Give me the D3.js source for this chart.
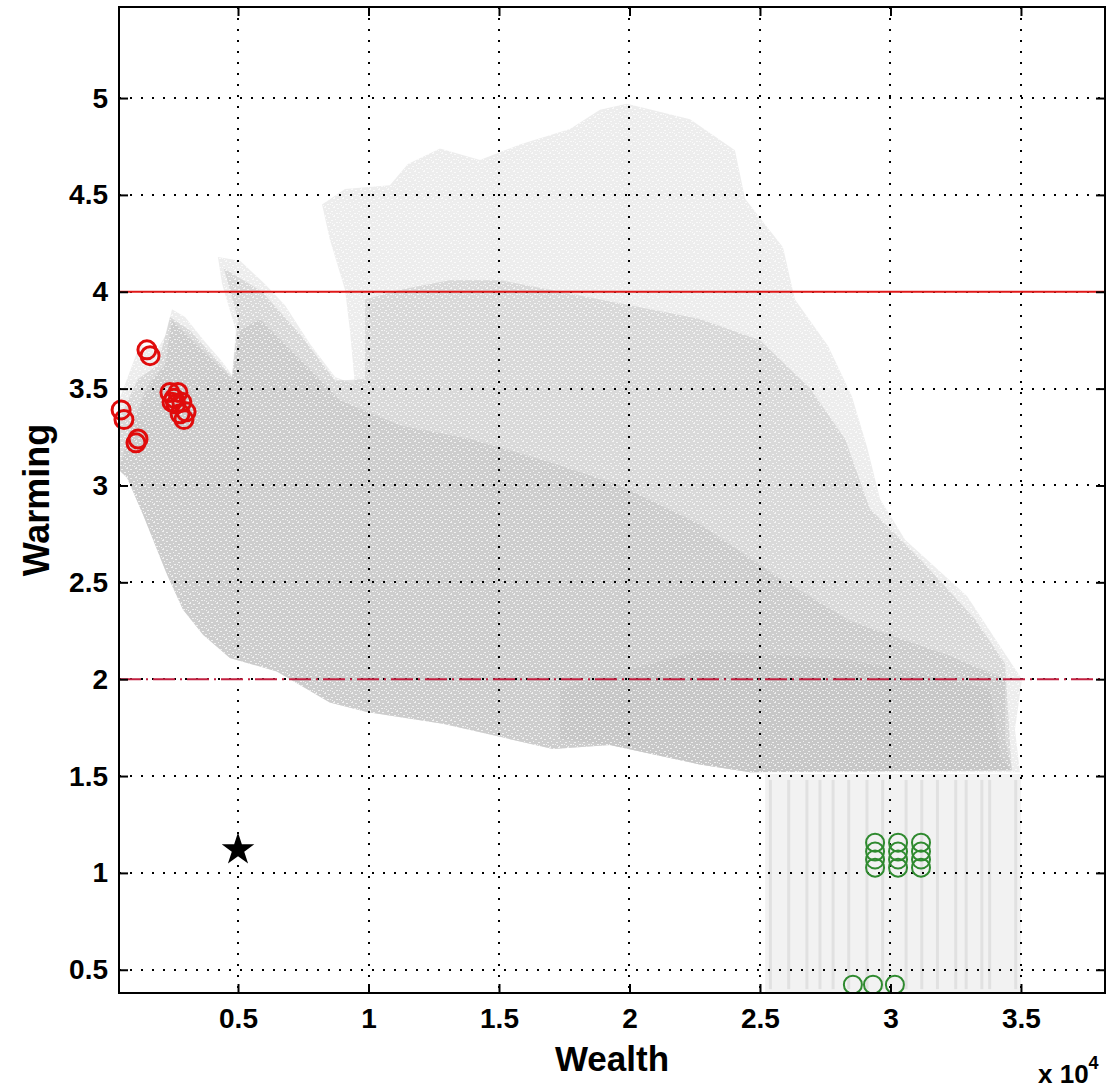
<!DOCTYPE html>
<html>
<head>
<meta charset="utf-8">
<script src="https://cdn.jsdelivr.net/npm/d3@7"></script>
<style>
  body { margin: 0; background: #fff; }
  svg { display: block; font-family: "Liberation Sans", Arial, Helvetica, sans-serif; }
</style>
</head>
<body>
<div id="chart"></div>
<script>
// axis setup (wealth in units of 10^4)
const xLimits = [0.044, 3.822];
const yLimits = [0.38, 5.47];
const xTicks = [0.5, 1, 1.5, 2, 2.5, 3, 3.5];
const yTicks = [0.5, 1, 1.5, 2, 2.5, 3, 3.5, 4, 4.5, 5];
const xTickLabels = ["0.5", "1", "1.5", "2", "2.5", "3", "3.5"];
const yTickLabels = ["0.5", "1", "1.5", "2", "2.5", "3", "3.5", "4", "4.5", "5"];

// threshold lines
const limitHigh = 4;
const limitLow = 2;

// the gray cloud of model runs, traced as density regions [wealth, warming]
const cloudOuter = [
  [0.044, 3.08], [0.044, 3.44], [0.125, 3.73], [0.186, 3.69], [0.224, 3.78], [0.247, 3.91],
  [0.297, 3.87], [0.374, 3.74], [0.439, 3.64], [0.477, 3.57], [0.492, 3.80], [0.439, 4.04],
  [0.423, 4.18], [0.508, 4.16], [0.603, 4.04], [0.680, 3.93], [0.776, 3.73], [0.872, 3.56],
  [0.948, 3.52], [0.929, 3.80], [0.910, 4.01], [0.852, 4.27], [0.822, 4.45], [0.910, 4.53],
  [1.082, 4.55], [1.151, 4.66], [1.274, 4.74], [1.427, 4.68], [1.580, 4.76], [1.772, 4.84],
  [1.887, 4.94], [1.990, 4.97], [2.232, 4.89], [2.404, 4.73], [2.443, 4.48], [2.588, 4.23],
  [2.634, 3.96], [2.761, 3.72], [2.852, 3.46], [2.910, 3.20], [2.960, 2.93], [3.056, 2.72],
  [3.293, 2.43], [3.420, 2.17], [3.504, 2.00], [3.477, 1.74], [3.496, 1.52],
  [2.462, 1.52], [2.270, 1.56], [1.925, 1.66], [1.707, 1.64], [1.285, 1.77], [0.994, 1.83],
  [0.852, 1.88], [0.649, 2.04], [0.469, 2.11], [0.366, 2.23], [0.289, 2.36], [0.228, 2.54],
  [0.136, 2.85], [0.075, 3.04]
];
const cloudMedium = [
  [0.044, 3.08], [0.044, 3.34], [0.117, 3.55], [0.193, 3.62], [0.239, 3.87], [0.316, 3.80],
  [0.477, 3.56], [0.500, 3.86], [0.446, 4.12], [0.592, 4.00], [0.738, 3.78], [0.872, 3.54],
  [0.987, 3.55], [0.987, 3.96], [1.121, 4.01], [1.312, 4.06], [1.504, 4.06], [1.695, 4.01],
  [1.887, 3.96], [2.079, 3.91], [2.270, 3.86], [2.500, 3.75], [2.692, 3.50], [2.826, 3.24],
  [2.921, 2.88], [3.113, 2.62], [3.324, 2.31], [3.439, 2.08], [3.457, 1.69], [3.465, 1.53],
  [2.462, 1.52], [2.270, 1.56], [1.925, 1.66], [1.707, 1.64], [1.285, 1.77], [0.994, 1.83],
  [0.852, 1.88], [0.649, 2.04], [0.469, 2.11], [0.366, 2.23], [0.289, 2.36], [0.228, 2.54],
  [0.136, 2.85], [0.075, 3.04]
];
const cloudDense = [
  [0.044, 3.08], [0.086, 3.29], [0.155, 3.52], [0.220, 3.62], [0.247, 3.85], [0.354, 3.71],
  [0.477, 3.55], [0.508, 3.80], [0.584, 3.86], [0.738, 3.65], [0.891, 3.44], [1.121, 3.31],
  [1.389, 3.24], [1.695, 3.12], [1.964, 3.00], [2.270, 2.80], [2.577, 2.52], [2.845, 2.30],
  [3.228, 2.12], [3.439, 2.00], [3.439, 1.69], [3.465, 1.53],
  [2.462, 1.52], [2.270, 1.56], [1.925, 1.66], [1.707, 1.64], [1.285, 1.77], [0.994, 1.83],
  [0.852, 1.88], [0.649, 2.04], [0.469, 2.11], [0.366, 2.23], [0.289, 2.36], [0.228, 2.54],
  [0.136, 2.85], [0.075, 3.04]
];
const cloudCore = [
  [1.734, 1.95], [2.270, 2.15], [2.845, 2.10], [3.381, 1.95], [3.420, 1.61], [3.458, 1.53],
  [2.462, 1.52], [2.270, 1.56], [1.925, 1.66], [1.734, 1.69]
];
const cloudLowBlock = [[2.52, 1.51], [3.50, 1.51], [3.50, 0.38], [2.52, 0.38]];
const stripeWealth = [2.54, 2.61, 2.68, 2.73, 2.78, 2.84, 2.91, 2.97, 3.06, 3.12, 3.18, 3.25, 3.29, 3.35, 3.38, 3.48];

// highlighted runs
const redWealth = [0.151, 0.163, 0.239, 0.255, 0.270, 0.278, 0.293, 0.301, 0.052, 0.063, 0.109, 0.117, 0.262, 0.285, 0.247];
const redWarming = [3.70, 3.67, 3.48, 3.45, 3.48, 3.37, 3.34, 3.38, 3.39, 3.34, 3.22, 3.24, 3.42, 3.43, 3.43];
const greenWealth = [2.941, 2.941, 2.941, 2.941, 3.029, 3.029, 3.029, 3.029, 3.117, 3.117, 3.117, 3.117, 2.856, 2.933, 3.017];
const greenWarming = [1.156, 1.110, 1.069, 1.027, 1.156, 1.110, 1.069, 1.027, 1.156, 1.110, 1.069, 1.027, 0.423, 0.423, 0.423];
const starWealth = [0.5];
const starWarming = [1.12];

const width = 1111, height = 1091;
const margin = { top: 7, right: 6, bottom: 98, left: 119 };

const svg = d3.select('#chart')
  .append('svg')
  .attr('width', width)
  .attr('height', height)
  .style('background', '#fff');

const x = d3.scaleLinear().domain(xLimits).range([margin.left, width - margin.right]);
const y = d3.scaleLinear().domain(yLimits).range([height - margin.bottom, margin.top]);

const defs = svg.append('defs');
defs.append('clipPath').attr('id', 'plotClip')
  .append('rect')
  .attr('x', margin.left).attr('y', margin.top)
  .attr('width', width - margin.left - margin.right)
  .attr('height', height - margin.top - margin.bottom);

// white speckle so the cloud reads as a scatter of points
const speckle = defs.append('pattern')
  .attr('id', 'speckle')
  .attr('patternUnits', 'userSpaceOnUse')
  .attr('width', 9).attr('height', 9);
[[0, 0, 2], [5, 1, 1], [2, 3, 1], [7, 4, 2], [3, 6, 2], [8, 7, 1], [1, 8, 1], [6, 6, 1], [4, 1, 1]].forEach(([px, py, w]) => {
  speckle.append('rect').attr('x', px).attr('y', py).attr('width', w).attr('height', 1).attr('fill', '#fff');
});

const plot = svg.append('g').attr('clip-path', 'url(#plotClip)');

// cloud
const area = d3.line().x(d => x(d[0])).y(d => y(d[1])).curve(d3.curveLinearClosed);
const cloudGray = '#c2c2c2';
[[cloudOuter, 0.3], [cloudMedium, 0.45], [cloudDense, 0.5], [cloudCore, 0.45]].forEach(([poly, op]) => {
  plot.append('path')
    .attr('d', area(poly))
    .attr('fill', cloudGray)
    .attr('fill-opacity', op);
});
plot.append('path')
  .attr('d', area(cloudLowBlock))
  .attr('fill', cloudGray)
  .attr('fill-opacity', 0.22);
plot.selectAll('.stripe')
  .data(stripeWealth)
  .enter()
  .append('line')
  .attr('class', 'stripe')
  .attr('x1', d => x(d)).attr('x2', d => x(d))
  .attr('y1', y(1.48)).attr('y2', y(0.4))
  .attr('stroke', cloudGray)
  .attr('stroke-width', 3)
  .attr('stroke-opacity', 0.35);
plot.append('path')
  .attr('d', area(cloudOuter))
  .attr('fill', 'url(#speckle)')
  .attr('fill-opacity', 0.7);

// dotted grid
const grid = svg.append('g').attr('fill', 'none').attr('stroke', '#000')
  .attr('stroke-width', 2).attr('stroke-dasharray', '2 9');
grid.selectAll('.vgrid')
  .data(xTicks)
  .enter()
  .append('line')
  .attr('x1', d => Math.round(x(d))).attr('x2', d => Math.round(x(d)))
  .attr('y1', y(yLimits[1])).attr('y2', y(yLimits[0]));
grid.selectAll('.hgrid')
  .data(yTicks)
  .enter()
  .append('line')
  .attr('y1', d => Math.round(y(d))).attr('y2', d => Math.round(y(d)))
  .attr('x1', x(xLimits[0])).attr('x2', x(xLimits[1]));

// threshold lines
svg.append('line')
  .attr('x1', x(xLimits[0])).attr('x2', x(xLimits[1]))
  .attr('y1', y(limitHigh)).attr('y2', y(limitHigh))
  .attr('stroke', '#e01818').attr('stroke-width', 2);
svg.append('line')
  .attr('x1', x(xLimits[0])).attr('x2', x(xLimits[1]))
  .attr('y1', y(limitLow)).attr('y2', y(limitLow))
  .attr('stroke', '#c22040').attr('stroke-width', 2)
  .attr('stroke-dasharray', '22 5 2 5');

// markers
const redRuns = redWealth.map((w, i) => [w, redWarming[i]]);
const greenRuns = greenWealth.map((w, i) => [w, greenWarming[i]]);
const markers = svg.append('g').attr('clip-path', 'url(#plotClip)');
markers.selectAll('.green')
  .data(greenRuns)
  .enter()
  .append('circle')
  .attr('cx', d => x(d[0])).attr('cy', d => y(d[1]))
  .attr('r', 9)
  .attr('fill', 'none')
  .attr('stroke', '#2f8a2f')
  .attr('stroke-width', 2);
svg.selectAll('.red')
  .data(redRuns)
  .enter()
  .append('circle')
  .attr('cx', d => x(d[0])).attr('cy', d => y(d[1]))
  .attr('r', 9)
  .attr('fill', 'none')
  .attr('stroke', '#e00c0c')
  .attr('stroke-width', 3);
svg.selectAll('.star')
  .data(starWealth.map((w, i) => [w, starWarming[i]]))
  .enter()
  .append('path')
  .attr('d', d3.symbol().type(d3.symbolStar).size(330))
  .attr('transform', d => `translate(${x(d[0])},${y(d[1])})`)
  .attr('fill', '#000');

// axes (inward ticks, MATLAB box)
const tickLen = 9;
const fmtX = d => xTickLabels[xTicks.indexOf(d)];
const fmtY = d => yTickLabels[yTicks.indexOf(d)];
const axes = [
  [d3.axisBottom(x).tickValues(xTicks).tickSizeInner(-tickLen).tickSizeOuter(0).tickPadding(15).tickFormat(fmtX), `translate(0,${y(yLimits[0])})`],
  [d3.axisTop(x).tickValues(xTicks).tickSizeInner(-tickLen).tickSizeOuter(0).tickFormat(''), `translate(0,${y(yLimits[1])})`],
  [d3.axisLeft(y).tickValues(yTicks).tickSizeInner(-tickLen).tickSizeOuter(0).tickPadding(11).tickFormat(fmtY), `translate(${x(xLimits[0])},0)`],
  [d3.axisRight(y).tickValues(yTicks).tickSizeInner(-tickLen).tickSizeOuter(0).tickFormat(''), `translate(${x(xLimits[1])},0)`]
];
axes.forEach(([axis, tr]) => {
  const g = svg.append('g').attr('transform', tr).call(axis);
  g.selectAll('line').attr('stroke', '#000').attr('stroke-width', 2);
  g.select('.domain').remove();
  g.selectAll('text')
    .attr('fill', '#000')
    .style('font-family', '"Liberation Sans", Arial, sans-serif')
    .style('font-size', '28px')
    .style('font-weight', 'bold');
});

svg.append('rect')
  .attr('x', x(xLimits[0])).attr('y', y(yLimits[1]))
  .attr('width', x(xLimits[1]) - x(xLimits[0]))
  .attr('height', y(yLimits[0]) - y(yLimits[1]))
  .attr('fill', 'none')
  .attr('stroke', '#000')
  .attr('stroke-width', 2);

// labels
svg.append('text')
  .attr('x', (x(xLimits[0]) + x(xLimits[1])) / 2)
  .attr('y', 1071)
  .attr('text-anchor', 'middle')
  .style('font-size', '35px')
  .style('font-weight', 'bold')
  .text('Wealth');

svg.append('text')
  .attr('transform', `translate(49,${(y(yLimits[0]) + y(yLimits[1])) / 2}) rotate(-90)`)
  .attr('text-anchor', 'middle')
  .style('font-size', '36px')
  .style('font-weight', 'bold')
  .text('Warming');

const expo = svg.append('text')
  .attr('x', 1038)
  .attr('y', 1083)
  .style('font-size', '26px')
  .style('font-weight', 'bold');
expo.append('tspan').text('x 10');
expo.append('tspan').attr('dy', -14).style('font-size', '18px').text('4');
</script>
</body>
</html>
